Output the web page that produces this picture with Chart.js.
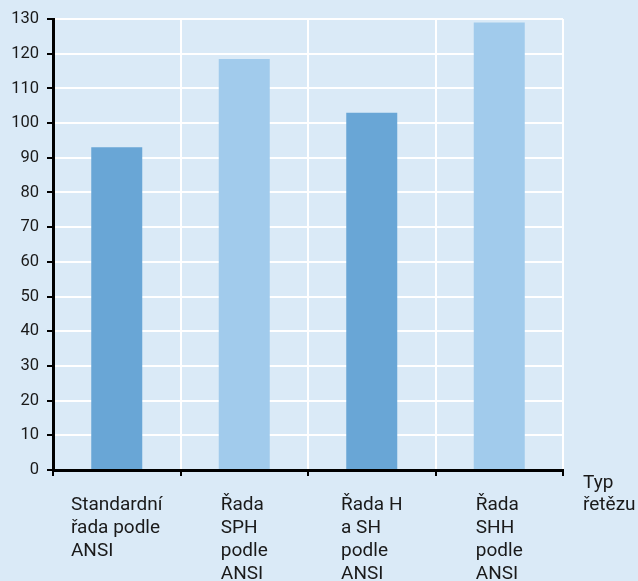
<!DOCTYPE html>
<html lang="cs">
<head>
    <meta charset="UTF-8">
    <title>Typ řetězu</title>
    <script src="https://cdn.jsdelivr.net/npm/chart.js"></script>
    <style>
        body { margin: 0; background: #daeaf7; }
        #wrap { width: 638px; height: 581px; }
    </style>
</head>
<body>
    <div id="wrap"><canvas id="barChart" width="638" height="581"></canvas></div>
    <script>
// data
const categories = [
  ['Standardní', 'řada podle', 'ANSI'],
  ['Řada', 'SPH', 'podle', 'ANSI'],
  ['Řada H', 'a SH', 'podle', 'ANSI'],
  ['Řada', 'SHH', 'podle', 'ANSI']
];
const values = [93, 118.5, 103, 129];
const barColors = ['#69a6d6', '#a1cbec', '#69a6d6', '#a1cbec'];
const axisTitle = ['Typ', 'řetězu'];
const yMin = 0, yMax = 130, yStep = 10;

const textColor = '#1a1a1a';

// background + x labels drawn left-aligned in a centred block
const decor = {
  id: 'decor',
  beforeDraw(chart) {
    const c = chart.ctx;
    c.save();
    c.fillStyle = '#daeaf7';
    c.fillRect(0, 0, chart.width, chart.height);
    c.restore();
  },
  afterDraw(chart) {
    const c = chart.ctx;
    const xs = chart.scales.x;
    const area = chart.chartArea;
    c.save();
    c.font = '19px Roboto';
    c.fillStyle = textColor;
    c.textAlign = 'left';
    c.textBaseline = 'alphabetic';
    categories.forEach((lines, i) => {
      const w = Math.max(...lines.map(l => c.measureText(l).width));
      const left = xs.getPixelForValue(i) - w / 2;
      lines.forEach((l, j) => c.fillText(l, left, area.bottom + 40 + j * 23));
    });
    axisTitle.forEach((l, j) => c.fillText(l, area.right + 20, area.bottom + 18 + j * 22));
    c.restore();
  }
};

const ctx = document.getElementById('barChart');
new Chart(ctx, {
  type: 'bar',
  data: {
    labels: categories.map(l => l.join(' ')),
    datasets: [{
      data: values,
      backgroundColor: barColors,
      borderWidth: 0,
      barPercentage: 0.4,
      categoryPercentage: 1
    }]
  },
  options: {
    responsive: false,
    animation: false,
    layout: { padding: { left: 0, top: 19, right: 75, bottom: 0 } },
    plugins: { legend: { display: false }, tooltip: { enabled: false } },
    scales: {
      x: {
        grid: { color: '#ffffff', lineWidth: 2, tickColor: '#000', tickLength: 6, tickWidth: 2 },
        border: { color: '#000', width: 3 },
        ticks: { display: false },
        afterFit: s => { s.height = 111; }
      },
      y: {
        min: yMin,
        max: yMax,
        grid: { color: '#ffffff', lineWidth: 2, tickColor: '#000', tickLength: 6, tickWidth: 2 },
        border: { color: '#000', width: 3 },
        ticks: {
          stepSize: yStep,
          padding: 8,
          color: textColor,
          font: { family: 'Roboto', size: 16.5 }
        },
        afterFit: s => { s.width = 53; }
      }
    }
  },
  plugins: [decor]
});
    </script>
</body>
</html>
